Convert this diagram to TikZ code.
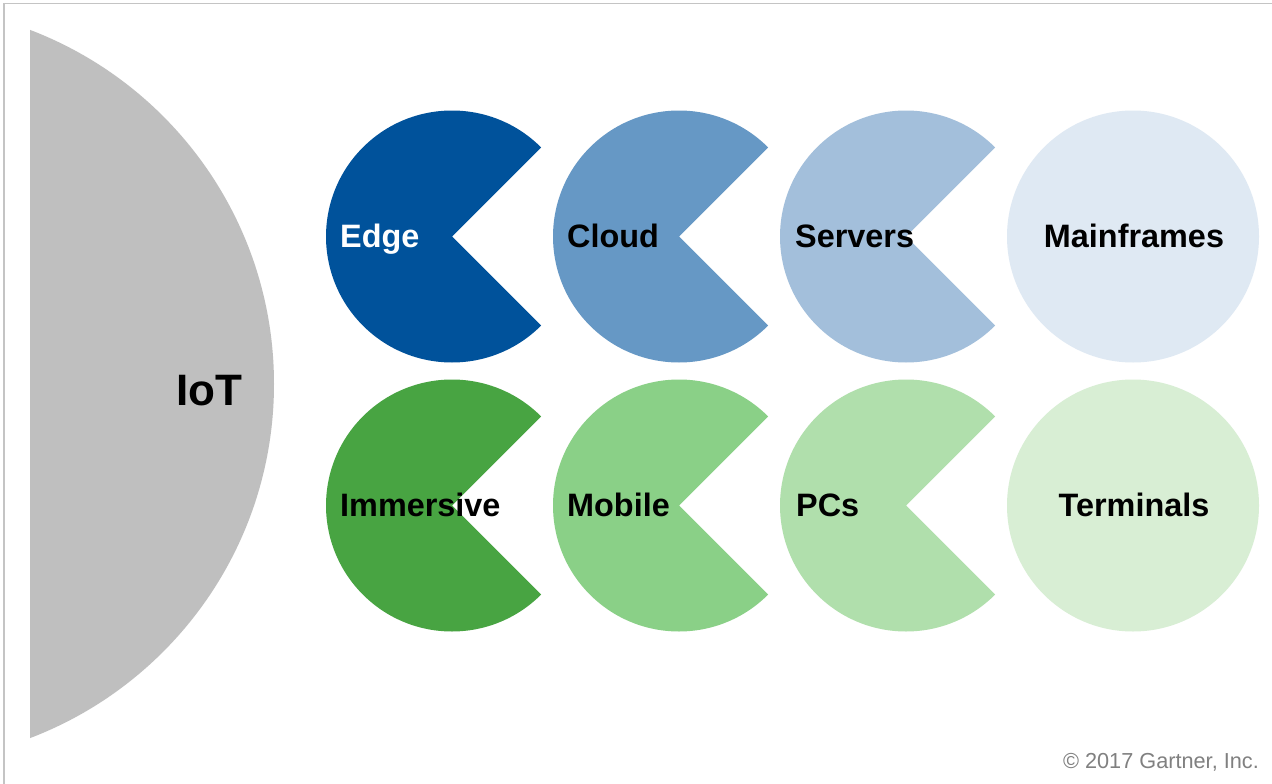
\documentclass[tikz,border=0pt]{standalone}
\usepackage{fontspec}
\setmainfont{Liberation Sans}
\definecolor{cEdge}{HTML}{00529B}
\definecolor{cCloud}{HTML}{6698C5}
\definecolor{cServers}{HTML}{A3BFDB}
\definecolor{cMain}{HTML}{DFE9F3}
\definecolor{cImm}{HTML}{48A442}
\definecolor{cMob}{HTML}{8AD087}
\definecolor{cPC}{HTML}{B0DFAC}
\definecolor{cTerm}{HTML}{D8EED4}
\definecolor{cIoT}{HTML}{BFBFBF}
\definecolor{cFrame}{HTML}{C4C4C4}
\definecolor{cCopy}{HTML}{808080}
\tikzset{
  lbl/.style={font=\bfseries\fontsize{32.4}{36}\selectfont, inner sep=0pt, anchor=base west, text=black},
  clbl/.style={font=\bfseries\fontsize{32.4}{36}\selectfont, inner sep=0pt, anchor=base, text=black},
}
\begin{document}
\begin{tikzpicture}[x=1pt,y=-1pt]
\useasboundingbox (0,0) rectangle (1272,784);
\fill[white] (0,0) rectangle (1272,784);
\draw[cFrame, line width=1.5pt] (4,790) -- (4,3.5) -- (1272,3.5);
% IoT segment
\begin{scope}
\clip (30,0) rectangle (400,784);
\fill[cIoT] (-104.8,384) circle[radius=378.8];
\end{scope}
\node[font=\bfseries\fontsize{44}{48}\selectfont, inner sep=0pt, anchor=base west] (iot) at (176,405) {IoT};
% pacmen
\foreach \cx/\cy/\col in {452/236.5/cEdge, 679/236.5/cCloud, 906/236.5/cServers,
                          452/505.5/cImm, 679/505.5/cMob, 906/505.5/cPC}{
  \fill[\col] (\cx,\cy) -- ++(45:126) arc[start angle=45, end angle=315, radius=126] -- cycle;
}
\fill[cMain] (1133,236.5) circle[radius=126];
\fill[cTerm] (1133,505.5) circle[radius=126];
\node[lbl, text=white] (edge) at (340,247) {Edge};
\node[lbl] (cloud) at (567,247) {Cloud};
\node[lbl] (servers) at (795,247) {Servers};
\node[clbl] (main) at (1134,247) {Mainframes};
\node[lbl] (imm) at (340,516) {Immersive};
\node[lbl] (mob) at (567,516) {Mobile};
\node[lbl] (pcs) at (796,516) {PCs};
\node[clbl] (term) at (1134,516) {Terminals};
\node[font=\fontsize{21.7}{24}\selectfont, text=cCopy, inner sep=0pt, anchor=base east] (copy) at (1259,768) {© 2017 Gartner, Inc.};
\end{tikzpicture}
\end{document}
